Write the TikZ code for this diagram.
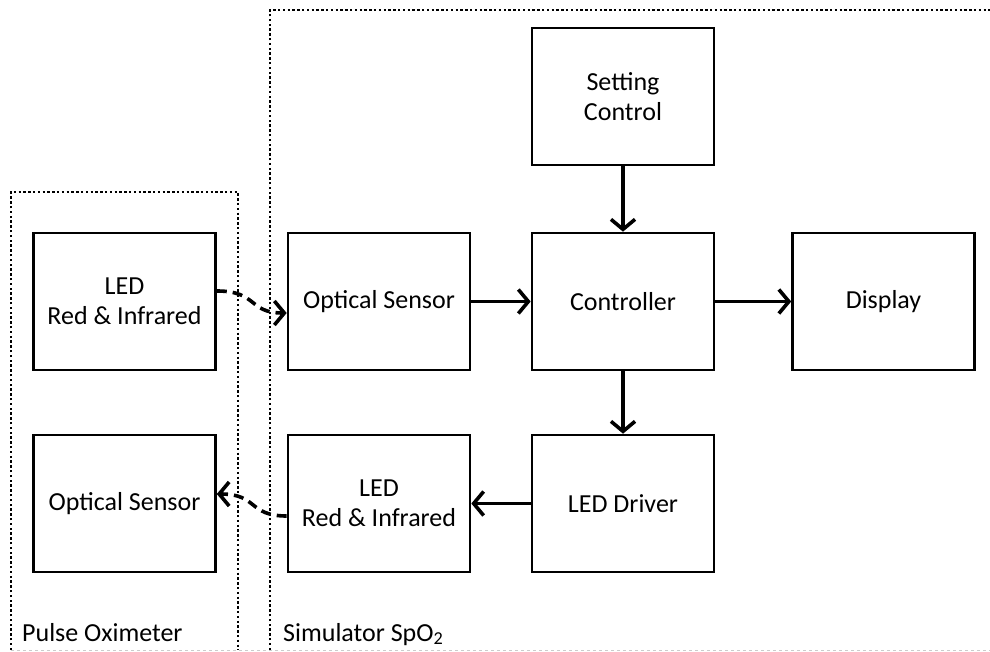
\documentclass[tikz,border=0pt]{standalone}
\usepackage{fontspec}
\setmainfont{Carlito}
\usetikzlibrary{arrows.meta}
\begin{document}
\begin{tikzpicture}[x=1pt,y=-1pt,
  blk/.style={draw,line width=2.6pt,minimum width=182pt,minimum height=137pt,align=center,inner sep=0pt,
    font=\fontsize{26}{30}\selectfont},
  arr/.style={line width=3.6pt,-{Straight Barb[length=10pt,width=24pt,line width=3.6pt]}},
  darr/.style={line width=3.6pt,dash pattern=on 10pt off 6pt,-{Straight Barb[length=10pt,width=24pt,line width=3.6pt]}},
  frame/.style={line width=2.4pt,dash pattern=on 2.4pt off 2.4pt},
  lbl/.style={anchor=base west,inner sep=0pt,font=\fontsize{26}{30}\selectfont}]
\useasboundingbox (0,0) rectangle (990,652);
% frames
\draw[frame] (11,650) -- (11,192) -- (238,192) -- (238,650);
\draw[frame] (270,650) -- (270,10) -- (992,10);
\draw[gray!40,line width=0.8pt,dash pattern=on 3pt off 3pt] (11,650) -- (990,650);
% blocks
\node[blk] (ledL) at (124.5,301.5) {LED\\Red \& Infrared};
\node[blk] (optL) at (124.5,503.5) {Optical Sensor};
\node[blk] (optS) at (379,301.5) {Optical Sensor};
\node[blk] (ctrl) at (623,301.5) {Controller};
\node[blk] (disp) at (883.5,301.5) {Display};
\node[blk] (set) at (623,96.5) {Setting\\Control};
\node[blk] (drv) at (623,503.5) {LED Driver};
\node[blk] (ledS) at (379,503.5) {LED\\Red \& Infrared};
% arrows
\draw[arr] (set.south) -- (ctrl.north);
\draw[arr] (optS.east) -- (ctrl.west);
\draw[arr] (ctrl.east) -- (disp.west);
\draw[arr] (ctrl.south) -- (drv.north);
\draw[arr] (drv.west) -- (ledS.east);
\coordinate (a1) at (ledL.east |- 0,291);
\coordinate (b1) at (optS.west |- 0,313);
\draw[darr] (a1) .. controls (258,291) and (248,313) .. (b1);
\coordinate (a2) at (ledS.west |- 0,516);
\coordinate (b2) at (optL.east |- 0,494);
\draw[darr] (a2) .. controls (248,516) and (258,494) .. (b2);
% labels
\node[lbl] (pl) at (22,641) {Pulse Oximeter};
\node[lbl] (sl) at (283,641) {Simulator SpO\textsubscript{2}};
\end{tikzpicture}
\end{document}
